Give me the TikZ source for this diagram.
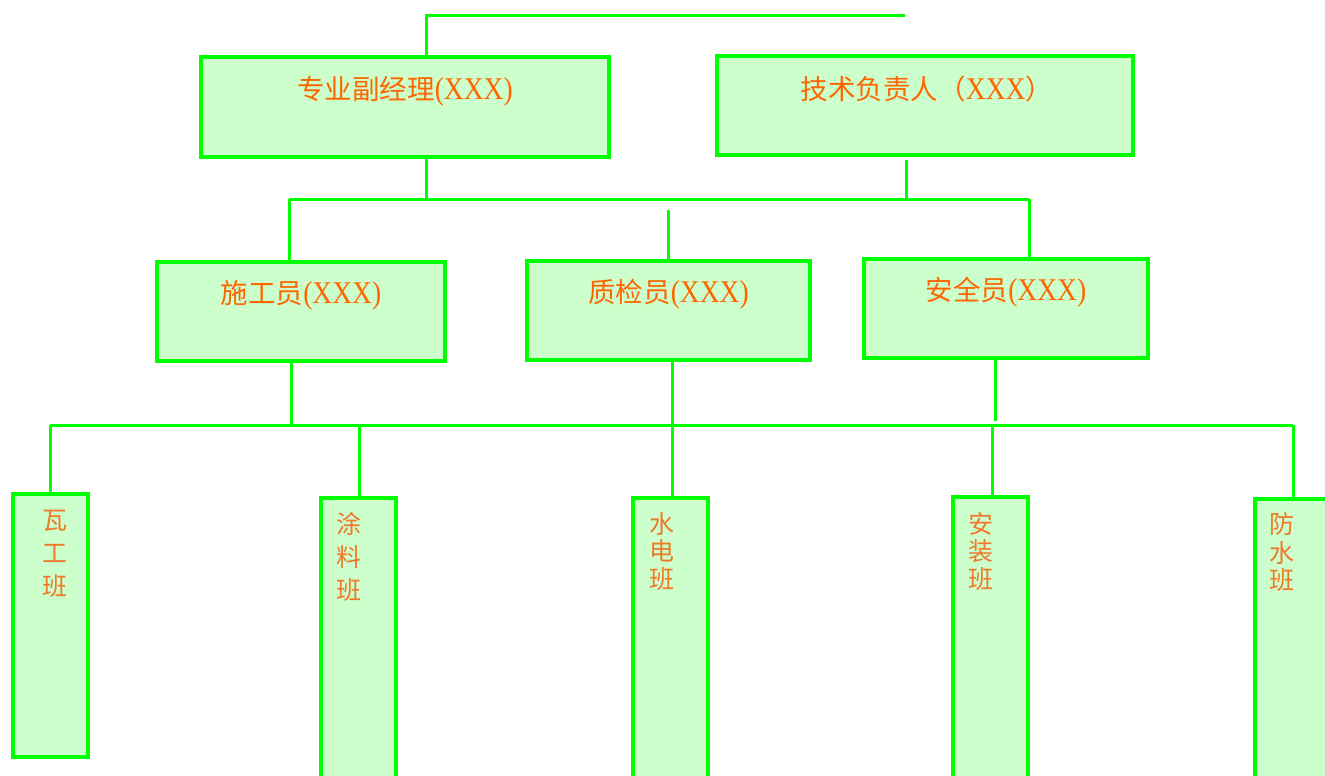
\documentclass[tikz,border=0pt]{standalone}
\usepackage{fontspec}
\usepackage{graphicx}
\setmainfont{Liberation Serif}
\newfontfamily\cjk{Noto Sans CJK SC}
\usetikzlibrary{calc}
\definecolor{lgreen}{HTML}{00FF00}
\definecolor{pfill}{HTML}{CCFFCC}
\definecolor{otext}{HTML}{FF6600}
\definecolor{otexttwo}{HTML}{F07828}
\newcommand{\latx}[1]{\scalebox{1}[1.15]{#1}}
\begin{document}
\begin{tikzpicture}[x=1pt,y=-1pt,
  box/.style={draw=lgreen, fill=pfill, line width=4pt, inner sep=0pt, outer sep=0pt, anchor=north west},
  conn/.style={draw=lgreen, line width=3pt},
  lbl/.style={font=\fontsize{27.5}{32}\selectfont, text=otext, inner sep=0pt},
  chr/.style={font=\cjk\fontsize{25}{30}\selectfont, text=otexttwo, inner sep=0pt}]
\useasboundingbox (0,0) rectangle (1325,776);
\clip (0,0) rectangle (1325,776);

% boxes
\node[box, minimum width=408pt, minimum height=100pt] (b1) at (201,57) {};
\node[box, minimum width=416pt, minimum height=99pt] (b2) at (717,56) {};
\node[box, minimum width=288pt, minimum height=99pt] (s1) at (157,262) {};
\node[box, minimum width=283pt, minimum height=99pt] (s2) at (527,261) {};
\node[box, minimum width=284pt, minimum height=99pt] (s3) at (864,259) {};
\node[box, minimum width=75pt, minimum height=263pt] (w1) at (13,494) {};
\node[box, minimum width=75pt, minimum height=300pt] (w2) at (321,498) {};
\node[box, minimum width=75pt, minimum height=300pt] (w3) at (633,498) {};
\node[box, minimum width=75pt, minimum height=300pt] (w4) at (953,497) {};
\node[box, minimum width=75pt, minimum height=300pt] (w5) at (1255,499) {};

% labels
\node[lbl] (l1) at ($(b1.north)+(0,34)$) {{\cjk 专业副经理}\latx{(XXX)}};
\node[lbl] (l2) at ($(b2.north)+(2,33)$) {{\cjk 技术负责人（}\latx{XXX}{\cjk ）}};
\node[lbl] (l3) at ($(s1.north)+(0,33)$) {{\cjk 施工员}\latx{(XXX)}};
\node[lbl] (l4) at ($(s2.north)+(0,33)$) {{\cjk 质检员}\latx{(XXX)}};
\node[lbl] (l5) at ($(s3.north)+(0,33)$) {{\cjk 安全员}\latx{(XXX)}};

% vertical column texts
\node[chr] (c11) at (55,521) {瓦};
\node[chr] (c12) at (55,553) {工};
\node[chr] (c13) at (55,586) {班};
\node[chr] (c21) at (349,524) {涂};
\node[chr] (c22) at (349,557) {料};
\node[chr] (c23) at (349,590) {班};
\node[chr] (c31) at (662,524) {水};
\node[chr] (c32) at (662,551) {电};
\node[chr] (c33) at (662,579) {班};
\node[chr] (c41) at (981,524) {安};
\node[chr] (c42) at (981,551) {装};
\node[chr] (c43) at (981,579) {班};
\node[chr] (c51) at (1282,524) {防};
\node[chr] (c52) at (1282,553) {水};
\node[chr] (c53) at (1282,580) {班};

% connector coordinates
\coordinate (t0) at (426,16);
\coordinate (tend) at (905,16);
\coordinate (j1) at (426,199);
\coordinate (j2) at (906,199);
\coordinate (m1) at (289,199);
\coordinate (m2) at (1029,199);
\coordinate (q0) at (668,210);
\coordinate (k1) at (291,425);
\coordinate (k2) at (672,425);
\coordinate (k3) at (995,421);
\coordinate (k4) at (359,425);
\coordinate (k5) at (992,425);
\coordinate (bl) at (50,425);
\coordinate (br) at (1293,425);

% top
\draw[conn] (b1.north -| t0) -- (t0) -- (tend);
% middle bus
\draw[conn] (b1.south -| j1) -- (j1);
\draw[conn] ([yshift=-5pt]b2.south -| j2) -- (j2);
\draw[conn] (m1) -- (m2);
\draw[conn] (m1) -- (s1.north -| m1);
\draw[conn] (m2) -- (s3.north -| m2);
\draw[conn] (q0) -- (s2.north -| q0);
% lower bus
\draw[conn] (s1.south -| k1) -- (k1);
\draw[conn] (s2.south -| k2) -- (w3.north -| k2);
\draw[conn] (s3.south -| k3) -- (k3);
\draw[conn] (bl) -- (br);
\draw[conn] (bl) -- (w1.north -| bl);
\draw[conn] (k4) -- (w2.north -| k4);
\draw[conn] (k5) -- (w4.north -| k5);
\draw[conn] (br) -- (w5.north -| br);
\end{tikzpicture}
\end{document}
